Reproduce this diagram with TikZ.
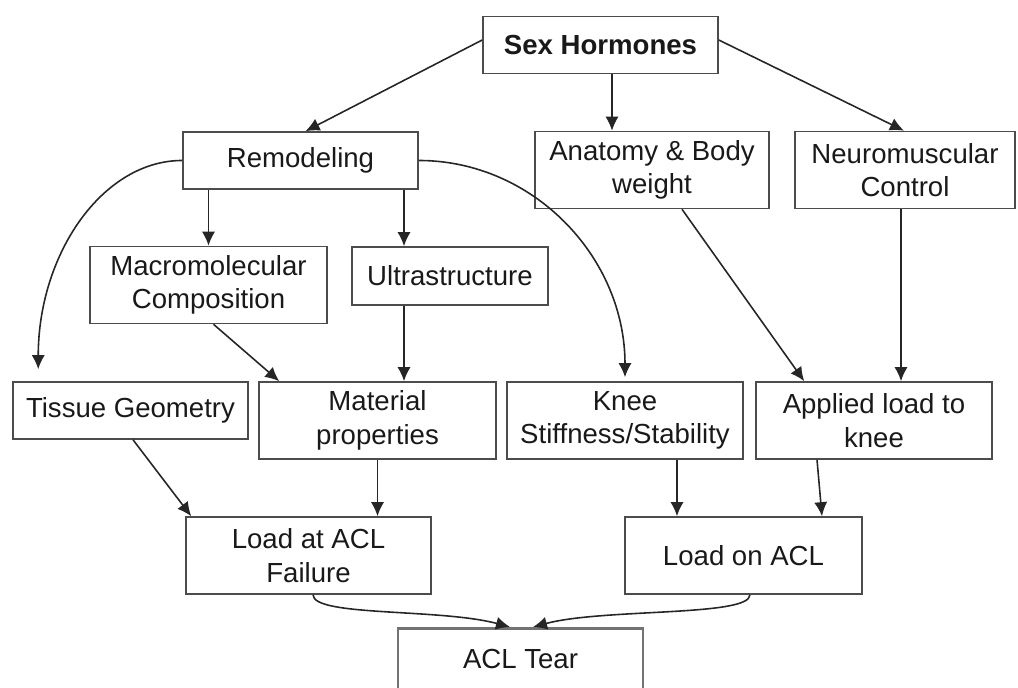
\documentclass[tikz,border=0pt]{standalone}
\usepackage{fontspec}
\setmainfont{Liberation Sans}
\usetikzlibrary{arrows.meta}

\begin{document}
\begin{tikzpicture}[
    x=0.02cm, y=0.02cm,
    box/.style={draw=black!70, line width=0.9pt, align=center, inner sep=2pt,
        font=\fontsize{15.7}{19}\selectfont, text=black!90},
    box_one/.style={box, minimum height=1.14cm},
    box_two/.style={box, minimum height=1.54cm},
    link/.style={-{Latex[length=8pt,width=7.5pt]}, line width=0.9pt, black!85}
]
    \useasboundingbox (0,0) rectangle (1018,688);
    \clip (0,0) rectangle (1018,688);
    % Caixas
    \node[box_one, minimum width=4.7cm, font=\fontsize{15.7}{19}\selectfont\bfseries] (sex) at (600.5,643) {Sex Hormones};
    \node[box_one, minimum width=4.7cm] (remod) at (300.5,527.5) {Remodeling};
    \node[box_two, minimum width=4.68cm] (anat) at (652,518) {Anatomy \& Body\\weight};
    \node[box_two, minimum width=4.4cm] (neuro) at (905,518) {Neuromuscular\\Control};
    \node[box_two, minimum width=4.74cm] (macro) at (208.5,403) {Macromolecular\\Composition};
    \node[box_one, minimum width=3.92cm, minimum height=1.16cm] (ultra) at (450,412) {Ultrastructure};
    \node[box_one, minimum width=4.7cm] (tissue) at (130.5,277.5) {Tissue Geometry};
    \node[box_two, minimum width=4.74cm] (material) at (377.5,267.5) {Material\\properties};
    \node[box_two, minimum width=4.72cm] (knee) at (625,267.5) {Knee\\Stiffness/Stability};
    \node[box_two, minimum width=4.72cm] (applied) at (874,267.5) {Applied load to\\knee};
    \node[box_two, minimum width=4.9cm] (loadfail) at (308.5,132.5) {Load at ACL\\Failure};
    \node[box_two, minimum width=4.74cm] (loadon) at (743.5,132.5) {Load on ACL};
    \node[box, anchor=north, minimum width=4.9cm, minimum height=1.7cm, text depth=0.5cm,
        draw=black!55, line width=1.6pt] (tear) at (520.5,61) {ACL Tear};
    % Setas do topo
    \draw[link] ([yshift=0.1cm]sex.west) -- ([xshift=0.1cm]remod.north);
    \draw[link] ([xshift=0.23cm]sex.south) -- ([xshift=0.23cm]sex.south |- anat.north);
    \draw[link] ([yshift=0.1cm]sex.east) -- ([xshift=-0.02cm]neuro.north);
    % Remodelacao
    \draw[link] (macro.north |- remod.south) -- (macro.north);
    \draw[link] ([xshift=-0.92cm]ultra.north |- remod.south) -- ([xshift=-0.92cm]ultra.north);
    \draw[link] (remod.west) to[out=180, in=90, out distance=1.59cm, in distance=2.31cm] ([xshift=0.52cm, yshift=0.24cm]tissue.north west);
    \draw[link] (remod.east) to[out=0, in=90, out distance=2.29cm, in distance=2.4cm] ([yshift=0.08cm]knee.north);
    % Nivel do meio
    \draw[link] ([xshift=0.1cm]macro.south) -- ([xshift=0.42cm]material.north west);
    \draw[link] ([xshift=-0.92cm]ultra.south) -- ([xshift=-0.92cm]ultra.south |- material.north);
    \draw[link] ([xshift=0.6cm]anat.south) -- ([xshift=0.98cm]applied.north west);
    \draw[link] ([xshift=-0.08cm]neuro.south) -- ([xshift=-0.08cm]neuro.south |- applied.north);
    % Cargas
    \draw[link] ([xshift=0.05cm]tissue.south) -- ([xshift=0.12cm]loadfail.north west);
    \draw[link] (material.south) -- (material.south |- loadfail.north);
    \draw[link] ([xshift=1.04cm]knee.south) -- ([xshift=1.04cm]knee.south |- loadon.north);
    \draw[link] ([xshift=-1.14cm]applied.south) -- ([xshift=1.57cm]loadon.north);
    % Ruptura
    \draw[link] ([xshift=0.09cm]loadfail.south) to[out=-90, in=165, out distance=0.44cm, in distance=1.45cm] ([xshift=-0.21cm]tear.north);
    \draw[link] ([xshift=0.13cm]loadon.south) to[out=-90, in=15, out distance=0.44cm, in distance=1.45cm] ([xshift=0.25cm]tear.north);
\end{tikzpicture}
\end{document}
